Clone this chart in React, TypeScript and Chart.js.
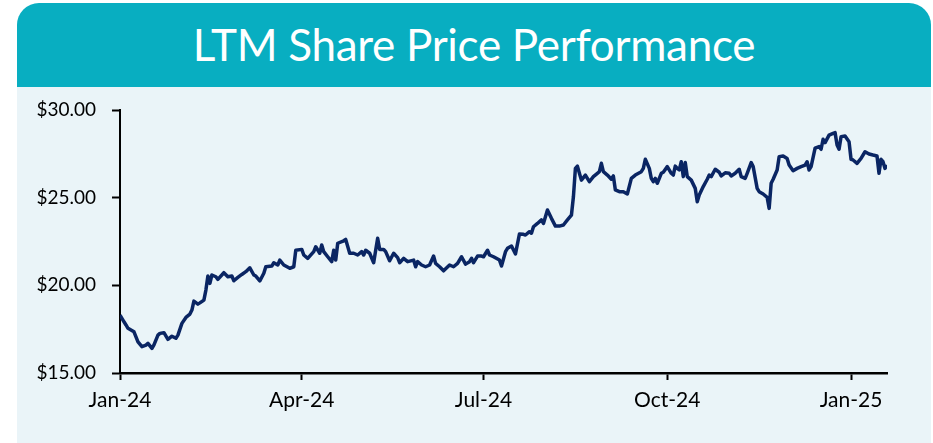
import React, { useEffect, useRef } from "react";
import { Chart, registerables } from "chart.js";

Chart.register(...registerables);

// Day offsets from 1-Jan-2024 and closing prices
const days: number[] = [
  0, 2, 3, 4, 7, 9, 11, 13, 14, 16, 17, 19, 20, 22, 24, 26, 28, 29, 31, 33, 35, 36, 37, 39, 40, 42, 43, 44, 45, 46,
  48, 49, 52, 54, 56, 57, 59, 61, 63, 65, 67, 68, 70, 72, 73, 76, 77, 79, 80, 82, 85, 87, 88, 91, 92, 94, 97, 98,
  100, 101, 102, 104, 106, 107, 108, 109, 112, 113, 115, 117, 119, 121, 122, 123, 125, 127, 128, 129, 130, 132,
  133, 135, 137, 139, 140, 142, 144, 147, 148, 149, 151, 153, 155, 157, 158, 160, 162, 165, 167, 169, 171, 173,
  175, 176, 177, 179, 181, 182, 184, 185, 187, 190, 191, 193, 194, 196, 198, 200, 202, 203, 205, 206, 207, 209,
  211, 212, 214, 216, 218, 220, 222, 224, 226, 227, 228, 229, 230, 231, 233, 235, 237, 239, 240, 241, 242, 244,
  246, 247, 248, 250, 252, 254, 256, 258, 261, 262, 263, 265, 266, 267, 268, 269, 271, 272, 274, 276, 277, 278,
  279, 280, 281, 282, 283, 284, 286, 288, 289, 290, 292, 294, 295, 296, 298, 300, 301, 303, 305, 306, 308, 310,
  311, 313, 314, 316, 317, 319, 320, 322, 324, 325, 326, 327, 329, 330, 332, 334, 335, 337, 339, 341, 343, 344,
  345, 346, 348, 350, 351, 352, 353, 355, 357, 358, 359, 360, 361, 363, 365, 366, 367, 369, 371, 373, 375, 377,
  379, 380, 381, 382, 383, 384,
];

const prices: number[] = [
  18.3, 17.92, 17.74, 17.55, 17.35, 16.78, 16.5, 16.59, 16.69, 16.4, 16.6, 17.16, 17.26, 17.3, 16.92, 17.1, 16.98,
  17.16, 17.83, 18.17, 18.36, 18.59, 19.1, 18.93, 19.0, 19.16, 19.73, 20.53, 20.11, 20.59, 20.49, 20.34, 20.72,
  20.49, 20.53, 20.26, 20.45, 20.62, 20.78, 21.0, 20.59, 20.53, 20.25, 20.69, 21.06, 21.1, 21.29, 21.16, 21.44,
  21.16, 20.97, 21.06, 22.0, 22.05, 21.73, 21.54, 21.92, 22.2, 21.83, 22.3, 21.92, 21.63, 21.35, 22.0, 21.44,
  22.4, 22.54, 22.62, 21.83, 21.83, 21.73, 21.92, 21.73, 22.0, 21.83, 21.29, 22.0, 22.68, 22.05, 22.05, 21.92,
  21.4, 21.83, 21.58, 21.29, 21.54, 21.35, 21.44, 21.06, 21.35, 21.16, 21.06, 21.16, 21.67, 21.25, 21.06, 20.83,
  21.16, 21.06, 21.25, 21.63, 21.21, 21.35, 21.54, 21.29, 21.67, 21.67, 21.63, 22.0, 21.73, 21.63, 21.44, 21.1,
  21.92, 22.11, 22.24, 21.79, 22.93, 22.91, 22.87, 23.06, 22.97, 23.34, 23.53, 23.73, 23.53, 24.3, 23.82, 23.38,
  23.38, 23.44, 23.73, 24.0, 25.05, 26.67, 26.8, 26.39, 26.0, 26.29, 25.91, 26.2, 26.39, 26.48, 26.96, 26.48,
  26.29, 26.05, 26.24, 25.44, 25.34, 25.34, 25.21, 26.1, 26.29, 26.48, 26.67, 27.19, 26.67, 26.1, 25.91, 26.1,
  25.82, 26.39, 26.45, 26.77, 26.39, 26.29, 26.8, 26.67, 26.58, 27.05, 26.2, 27.0, 26.2, 26.0, 25.53, 24.77,
  25.15, 25.63, 26.05, 26.29, 26.2, 26.62, 26.45, 26.24, 26.42, 26.39, 26.24, 26.39, 26.62, 26.2, 26.1, 26.39,
  27.0, 26.77, 25.53, 25.34, 25.21, 25.02, 24.39, 25.82, 26.05, 26.58, 27.34, 27.38, 27.24, 26.86, 26.54, 26.67,
  26.77, 26.86, 27.05, 26.58, 26.77, 27.82, 27.91, 27.76, 28.33, 28.14, 28.57, 28.67, 28.71, 28.0, 27.76, 28.48,
  28.52, 28.19, 27.19, 27.15, 26.96, 27.24, 27.62, 27.49, 27.43, 27.38, 26.39, 27.19, 27.05, 26.67, 26.86,
];

const tickDays: number[] = [0, 91, 182, 274, 366];
const tickLabels: string[] = ["Jan-24", "Apr-24", "Jul-24", "Oct-24", "Jan-25"];
const yTicks: number[] = [15, 20, 25, 30];

const TITLE = "LTM Share Price Performance";
const FONT = "Lato, 'Open Sans', sans-serif";

export default function App() {
  const canvasRef = useRef<HTMLCanvasElement | null>(null);

  useEffect(() => {
    const canvas = canvasRef.current;
    if (!canvas) return;
    const points = days.map((d, i) => ({ x: d, y: prices[i] }));
    const chart = new Chart(canvas, {
      type: "line",
      data: {
        datasets: [
          {
            data: points,
            borderColor: "#0A2563",
            borderWidth: 3.5,
            pointRadius: 0,
            tension: 0,
            fill: false,
            borderJoinStyle: "round",
          },
        ],
      },
      options: {
        animation: false,
        responsive: false,
        maintainAspectRatio: false,
        parsing: false as any,
        layout: { padding: { top: 23, right: 44, left: 0, bottom: 0 } },
        plugins: { legend: { display: false }, tooltip: { enabled: false }, title: { display: false } },
        scales: {
          x: {
            type: "linear",
            min: 0,
            max: 384,
            afterBuildTicks: (scale: any) => {
              scale.ticks = tickDays.map((v) => ({ value: v }));
            },
            afterFit: (scale: any) => {
              scale.height = 70;
            },
            ticks: {
              autoSkip: false,
              maxRotation: 0,
              padding: 8,
              color: "#000",
              font: { family: FONT, size: 21 },
              callback: (value: any) => {
                const i = tickDays.indexOf(Number(value));
                return i >= 0 ? tickLabels[i] : "";
              },
            },
            grid: {
              display: true,
              drawOnChartArea: false,
              drawTicks: true,
              tickLength: 7,
              tickColor: "#000",
              tickWidth: 2,
            },
            border: { display: true, color: "#000", width: 2.5 },
          },
          y: {
            type: "linear",
            min: 15,
            max: 30,
            afterBuildTicks: (scale: any) => {
              scale.ticks = yTicks.map((v) => ({ value: v }));
            },
            afterFit: (scale: any) => {
              scale.width = 103;
              scale.paddingTop = 0;
              scale.paddingBottom = 0;
            },
            ticks: {
              padding: 16,
              color: "#000",
              font: { family: FONT, size: 19 },
              callback: (value: any) => "$" + Number(value).toFixed(2),
            },
            grid: {
              display: true,
              drawOnChartArea: false,
              drawTicks: true,
              tickLength: 8,
              tickColor: "#000",
              tickWidth: 2,
            },
            border: { display: true, color: "#000", width: 2 },
          },
        },
      },
    });
    return () => chart.destroy();
  }, []);

  return (
    <div
      style={{
        position: "absolute",
        left: 17,
        top: 3,
        width: 914,
        height: 440,
        fontFamily: FONT,
      }}
    >
      <div
        style={{
          height: 84,
          background: "#08AEC1",
          borderTopLeftRadius: 22,
          borderTopRightRadius: 22,
          display: "flex",
          alignItems: "center",
          justifyContent: "center",
          color: "#fff",
          fontSize: 44,
          fontWeight: 400,
          letterSpacing: -0.3,
        }}
      >
        <span style={{ position: "relative", top: -1 }}>{TITLE}</span>
      </div>
      <div style={{ height: 356, background: "#EAF4F8" }}>
        <canvas ref={canvasRef} width={914} height={356} style={{ display: "block" }} />
      </div>
    </div>
  );
}
